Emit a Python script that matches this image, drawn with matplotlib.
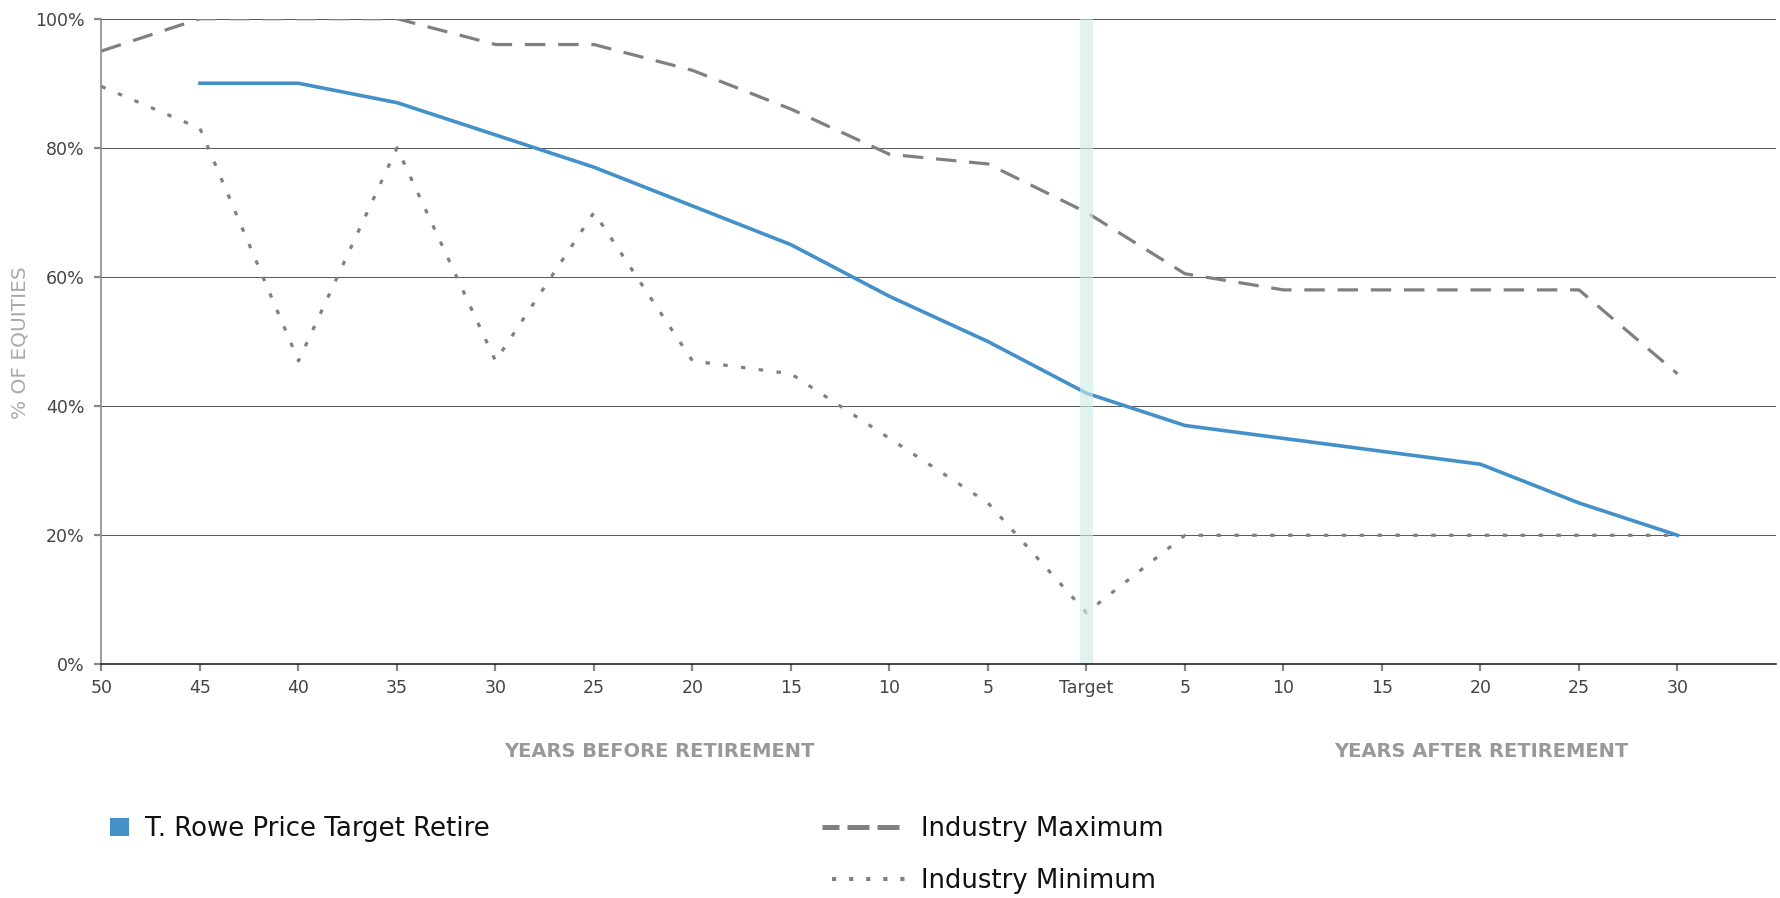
import matplotlib
matplotlib.use("Agg")
import matplotlib.pyplot as plt
from matplotlib.lines import Line2D
from matplotlib.patches import Rectangle

plt.rcParams['font.family'] = ['DejaVu Sans']

# Glide path data: equity share (%) by years before / after retirement
tick_labels = ['50', '45', '40', '35', '30', '25', '20', '15', '10', '5',
               'Target', '5', '10', '15', '20', '25', '30']
positions = list(range(len(tick_labels)))

trowe_pos = positions[1:]
trowe_values = [90, 90, 87, 82, 77, 71, 65, 57, 50, 42, 37, 35, 33, 31, 25, 20]

industry_max = [95, 100, 100, 100, 96, 96, 92, 86, 79, 77.5, 70, 60.5, 58, 58, 58, 58, 45]
industry_min = [89.5, 83, 47, 80, 47, 70, 47, 45, 35, 25, 8, 20, 20, 20, 20, 20, 20]

target_index = tick_labels.index('Target')
y_ticks = [0, 20, 40, 60, 80, 100]

BLUE = '#4490c9'
GRAY = '#808080'

W, H = 1781, 898
fig = plt.figure(figsize=(W / 100, H / 100), dpi=100)
ax = fig.add_axes([101.5 / W, 1 - 664.4 / H, (1776 - 101.5) / W, (664.4 - 18.7) / H])

ax.set_xlim(0, 17)
ax.set_ylim(0, 100)

# horizontal gridlines
for yv in y_ticks[1:]:
    ax.axhline(yv, color='#555555', lw=0.7, zorder=1)

ax.plot(positions, industry_max, color=GRAY, lw=2.3, dashes=(6.4, 4.0),
        dash_capstyle='butt', zorder=3)
ax.plot(positions, industry_min, color=GRAY, lw=2.3, dashes=(1.4, 4.2),
        dash_capstyle='butt', zorder=3)
ax.plot(trowe_pos, trowe_values, color=BLUE, lw=2.6, zorder=4,
        solid_joinstyle='round')

# retirement date band
ax.axvspan(target_index - 0.068, target_index + 0.068, color='#cdece8',
           alpha=0.6, lw=0, zorder=5)

ax.set_xticks(positions)
ax.set_xticklabels(tick_labels)
ax.set_yticks(y_ticks)
ax.set_yticklabels([f'{v}%' for v in y_ticks])
ax.tick_params(axis='both', colors='#888888', labelcolor='#444444',
               labelsize=12.5, length=5, width=1.6)
ax.tick_params(axis='x', pad=5.5)
ax.tick_params(axis='y', pad=7)

for side in ('top', 'right'):
    ax.spines[side].set_visible(False)
ax.spines['left'].set_color('#8c8c8c')
ax.spines['left'].set_linewidth(1.2)
ax.spines['bottom'].set_color('#111111')
ax.spines['bottom'].set_linewidth(1.1)
ax.spines['bottom'].set_zorder(6)

fig.text(20 / W, 1 - 343 / H, '% OF EQUITIES', rotation=90, ha='center',
         va='center', fontsize=14.5, color='#aaaaaa')
fig.text(659.5 / W, 1 - 756.6 / H, 'YEARS BEFORE RETIREMENT', ha='center',
         va='baseline', fontsize=14, fontweight='bold', color='#999999')
fig.text(1481.5 / W, 1 - 756.6 / H, 'YEARS AFTER RETIREMENT', ha='center',
         va='baseline', fontsize=14, fontweight='bold', color='#999999')

# legend
fig.add_artist(Rectangle((110 / W, 1 - 836 / H), 19 / W, 18 / H,
                         transform=fig.transFigure, color=BLUE, lw=0))
fig.text(144.7 / W, 1 - 836 / H, 'T. Rowe Price Target Retire', ha='left',
         va='baseline', fontsize=18.7, color='#111111')

fig.add_artist(Line2D([821.7 / W, 899 / W], [1 - 826.7 / H] * 2,
                      transform=fig.transFigure, color=GRAY, lw=3.6,
                      linestyle=(1.0, (4.4, 1.6)), dash_capstyle='butt'))
fig.text(920.8 / W, 1 - 835.5 / H, 'Industry Maximum', ha='left',
         va='baseline', fontsize=18.6, color='#111111')

fig.add_artist(Line2D([832 / W, 905 / W], [1 - 879.3 / H] * 2,
                      transform=fig.transFigure, color=GRAY, lw=3.0,
                      dashes=(1.0, 3.1), dash_capstyle='butt'))
fig.text(920.8 / W, 1 - 888 / H, 'Industry Minimum', ha='left',
         va='baseline', fontsize=18.6, color='#111111')

fig.savefig('out.png', dpi=100, facecolor='white')
